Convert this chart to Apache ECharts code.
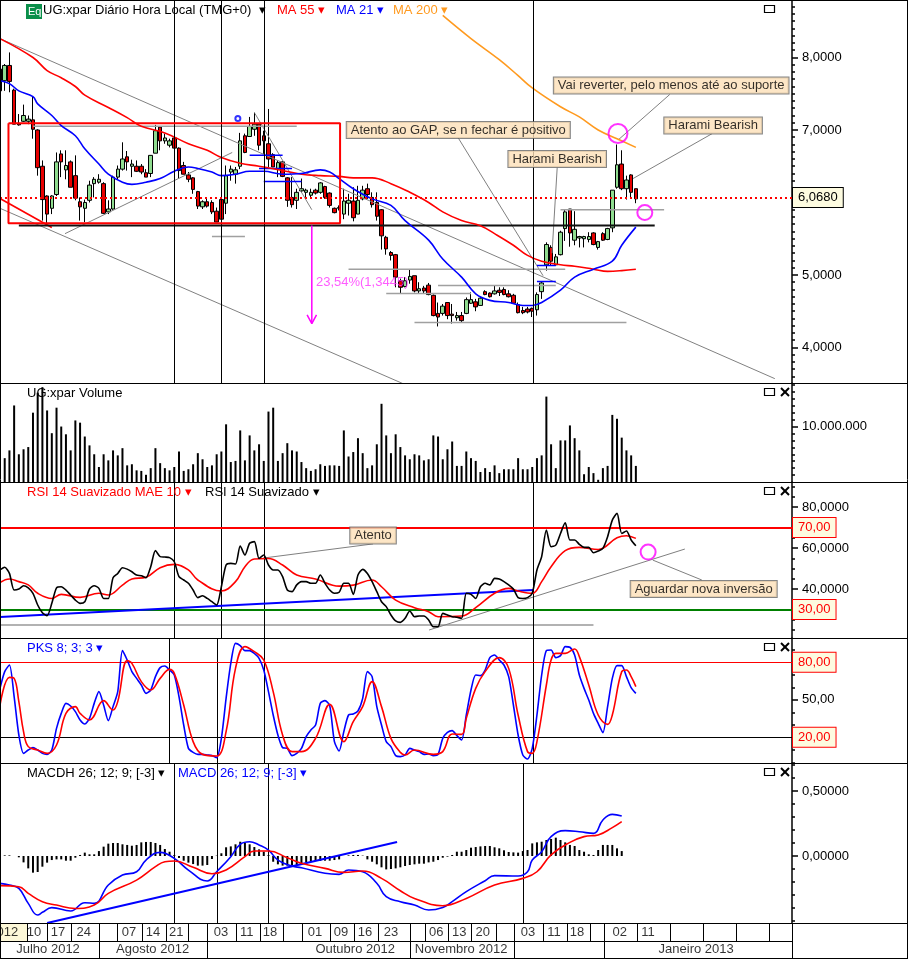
<!DOCTYPE html>
<html><head><meta charset="utf-8">
<style>html,body{margin:0;padding:0;background:#fff}#c{width:908px;height:959px}</style>
<script src="https://cdn.jsdelivr.net/npm/echarts@6/dist/echarts.min.js"></script>
</head><body><div id="c"></div>
<script>
// ---------- price: [open, close, low, high], one row per session
const candles = [
[7.84,7.54,7.50,7.95],[7.68,7.89,7.54,7.91],[7.89,7.67,7.52,8.07],[7.55,7.08,7.08,7.57],[7.09,7.07,7.06,7.22],
[7.12,7.20,7.11,7.35],[7.12,7.15,7.08,7.20],[7.14,7.01,6.88,7.46],[7.00,6.48,6.37,7.01],[6.50,6.04,5.75,6.58],
[6.09,5.84,5.70,6.10],[5.92,6.09,5.84,6.10],[6.11,6.56,6.09,6.69],[6.67,6.56,6.35,6.72],[6.45,6.51,6.32,6.72],
[6.56,6.21,6.21,6.58],[6.37,6.06,6.03,6.65],[6.01,5.94,5.75,6.07],[5.92,6.00,5.73,6.04],[6.03,6.24,6.00,6.30],
[6.26,6.32,6.07,6.35],[6.28,6.32,6.26,6.39],[6.26,5.85,5.84,6.28],[5.87,5.91,5.84,6.03],[5.91,6.35,5.90,6.37],
[6.35,6.46,6.32,6.51],[6.46,6.60,6.44,6.83],[6.63,6.56,6.44,6.71],[6.50,6.53,6.35,6.59],[6.50,6.43,6.42,6.58],
[6.50,6.42,6.39,6.53],[6.41,6.35,6.35,6.46],[6.40,6.65,6.35,6.65],[6.68,6.99,6.68,7.07],[7.04,6.85,6.72,7.04],
[6.85,6.89,6.81,6.95],[6.79,6.85,6.76,6.88],[6.89,6.75,6.53,6.91],[6.75,6.44,6.33,6.76],[6.51,6.39,6.39,6.56],
[6.38,6.32,6.28,6.42],[6.34,6.18,6.12,6.35],[6.15,5.95,5.91,6.16],[5.94,6.01,5.91,6.03],[6.01,5.95,5.93,6.07],
[6.00,5.87,5.84,6.03],[5.88,5.73,5.73,5.93],[6.04,5.77,5.73,6.05],[5.99,6.37,5.84,6.51],[6.42,6.46,6.30,6.51],
[6.39,6.45,6.26,6.49],[6.50,6.85,6.46,6.96],[6.92,6.69,6.68,6.95],[6.91,7.05,6.91,7.18],[7.01,7.08,6.92,7.24],
[7.08,6.79,6.72,7.08],[6.92,6.85,6.67,6.99],[6.81,6.60,6.49,7.29],[6.66,6.49,6.49,6.68],[6.46,6.55,6.35,6.58],
[6.56,6.36,6.35,6.57],[6.34,6.03,5.94,6.35],[6.07,5.97,5.93,6.35],[6.03,6.14,5.91,6.19],[6.16,6.19,6.14,6.33],
[6.14,6.17,6.07,6.19],[6.10,6.14,6.07,6.19],[6.17,6.13,6.11,6.19],[6.14,6.27,6.12,6.28],[6.22,6.07,6.05,6.23],
[6.13,5.96,5.93,6.14],[5.92,5.86,5.85,5.93],[5.92,5.93,5.89,5.96],[5.84,6.02,5.77,6.19],[5.99,6.03,5.82,6.12],
[6.02,5.79,5.74,6.21],[5.84,6.03,5.84,6.23],[6.05,6.17,6.03,6.23],[6.19,6.11,6.05,6.26],[6.07,5.97,5.93,6.14],
[6.00,5.81,5.75,6.14],[5.90,5.54,5.35,5.91],[5.52,5.36,5.28,5.54],[5.31,5.27,5.20,5.33],[5.28,4.97,4.83,5.29],
[4.92,4.83,4.75,4.95],[4.84,4.92,4.83,4.97],[4.93,4.98,4.88,5.08],[4.99,4.78,4.76,4.99],[4.78,4.81,4.74,4.90],
[4.82,4.78,4.74,4.85],[4.86,4.73,4.72,4.89],[4.72,4.44,4.43,4.73],[4.47,4.42,4.29,4.62],[4.47,4.57,4.44,4.60],
[4.62,4.44,4.39,4.62],[4.46,4.44,4.33,4.60],[4.41,4.44,4.37,4.49],[4.44,4.37,4.35,4.49],[4.47,4.66,4.46,4.69],
[4.61,4.66,4.60,4.76],[4.63,4.56,4.50,4.67],[4.58,4.68,4.58,4.70],[4.77,4.73,4.72,4.79],[4.75,4.70,4.69,4.76],
[4.74,4.78,4.73,4.85],[4.79,4.76,4.71,4.83],[4.80,4.73,4.72,4.83],[4.74,4.70,4.69,4.79],[4.72,4.61,4.60,4.74],
[4.59,4.48,4.47,4.62],[4.51,4.48,4.46,4.56],[4.53,4.49,4.47,4.56],[4.54,4.50,4.42,4.55],[4.52,4.73,4.44,4.76],
[4.77,4.89,4.67,4.91],[5.14,5.42,5.06,5.45],[5.38,5.19,5.13,5.41],[5.14,5.25,5.13,5.29],[5.28,5.59,5.27,5.61],
[5.64,5.87,5.47,5.90],[5.91,5.58,5.39,5.91],[5.48,5.63,5.41,5.88],[5.51,5.53,5.38,5.54],[5.50,5.53,5.38,5.54],
[5.49,5.53,5.45,5.59],[5.58,5.42,5.41,5.59],[5.38,5.46,5.35,5.47],[5.57,5.48,5.47,5.59],[5.49,5.64,5.48,5.65],
[5.65,6.17,5.59,6.17],[6.21,6.52,6.19,6.80],[6.53,6.19,6.17,6.72],[6.19,6.31,6.04,6.37],[6.38,6.14,6.05,6.39],
[6.19,6.05,5.99,6.19]];
// moving averages: [session index, value]
const ma55 = [[0,8.26],[7,8.00],[10,7.82],[13,7.72],[16,7.60],[18,7.48],[23,7.31],[27,7.17],[30,7.05],[35,6.96],[40,6.81],[44,6.72],[47,6.62],[51,6.54],[55,6.50],[60,6.44],[64,6.39],[68,6.37],[72,6.36],[75,6.34],[79,6.34],[83,6.26],[87,6.14],[91,6.00],[94,5.87],[98,5.75],[102,5.68],[105,5.57],[109,5.41],[112,5.27],[115,5.19],[119,5.14],[122,5.12],[126,5.08],[129,5.05],[132,5.06],[135,5.08]];
const ma21 = [[0,7.68],[2,7.64],[4,7.54],[7,7.46],[8,7.36],[11,7.20],[13,7.06],[16,6.92],[18,6.74],[21,6.53],[23,6.39],[26,6.28],[28,6.25],[31,6.28],[34,6.33],[37,6.43],[40,6.49],[42,6.47],[45,6.42],[47,6.37],[50,6.39],[53,6.43],[56,6.43],[60,6.39],[64,6.40],[68,6.45],[70,6.42],[72,6.33],[75,6.19],[79,6.05],[83,5.96],[86,5.75],[91,5.48],[94,5.22],[98,4.97],[101,4.74],[104,4.65],[108,4.62],[111,4.58],[113,4.58],[115,4.62],[119,4.79],[122,4.97],[126,5.08],[130,5.19],[132,5.41],[135,5.66]];
const ma200 = [[94,8.58],[100,8.26],[106,7.97],[110,7.75],[113,7.58],[119,7.32],[123,7.18],[127,7.00],[131,6.88],[135,6.76]];
const lastPrice = 6.068;
// drawn studies, in [session, price] pairs
const trendLines = [[[0,8.26],[164.5,3.57]],[[0,5.92],[85.6,3.50]],[[13.8,5.57],[49.3,6.69]],[[54.1,7.23],[66.2,5.90]]];
const calloutLines = [[[97.2,6.90],[115.3,4.99]],[[118.3,6.48],[117.2,5.30]],[[142.2,7.49],[131.2,6.86]],[[151.2,6.95],[134.4,6.33]]];
const supportLines = [[[7,7.05],[63,7.05]],[[45,5.53],[52,5.53]],[[74,5.08],[120,5.08]],[[93,4.855],[118,4.855]],[[82,4.745],[100,4.745]],[[88,4.345],[133,4.345]],[[119,5.90],[141,5.90]]];
const gapSupport = [[4,5.683],[139,5.683]];
const blueLevels = [[[53,6.65],[60,6.65]],[[55,6.47],[62,6.47]],[[56,6.29],[64,6.29]],[[114,5.13],[118,5.13]],[[114,4.91],[118,4.91]]];
const redChannel = [[0,6.055],[11,5.655]];
const rangeBox = [[1.8,7.094],[72.2,7.094],[72.2,5.714],[1.8,5.714],[1.8,7.094]];
const targetArrow = [[66.2,5.683],[66.2,4.33]];
const targetHead = [[65.2,4.45],[66.2,4.33],[67.2,4.45]];
const priceNotes = [[97.3,7.0,'Atento ao GAP, se n fechar é positivo'],[142.5,7.614,'Vai reverter, pelo menos até ao suporte'],[151.4,7.062,'Harami Bearish'],[118.3,6.6,'Harami Bearish']];
const targetNote = [76.9,4.897,'23,54%(1,3445)'];
const priceRings = [[131.2,6.952],[136.9,5.862]];
const blueRing = [50.5,7.159];
const priceTicks = [4,5,7,8];
const priceVerticals = [37.05,46.9,56.2,113.2];
// volume, millions of shares, starting at session 1
const volumes = [4.3,5.7,13.8,5.0,5.9,6.3,12.5,16.1,17.1,12.9,8.8,13.4,10.0,8.6,5.7,11.1,10.7,8.2,6.6,5.0,2.7,5.0,3.9,5.7,4.8,6.1,3.0,3.2,2.1,2.0,1.3,2.5,6.1,3.4,2.5,2.1,2.7,5.5,2.0,2.3,3.2,5.2,4.1,2.7,3.0,5.0,5.5,10.4,3.6,3.8,9.3,3.9,8.4,5.7,6.8,3.8,12.7,13.4,3.8,5.2,7.0,5.7,5.5,3.6,2.5,2.0,2.3,3.2,2.9,3.0,3.0,2.9,9.3,4.6,5.4,7.9,5.2,2.5,3.0,6.8,14.1,8.4,5.2,8.6,
6.3,4.8,4.1,5.0,4.8,3.9,4.1,8.4,8.2,4.1,5.9,7.3,2.9,2.9,5.5,4.3,3.8,1.8,2.5,1.8,3.0,1.6,2.3,2.3,2.3,4.3,2.3,2.3,2.7,4.3,4.8,15.4,6.8,2.5,7.5,7.5,10.2,7.9,5.7,1.4,2.7,1.6,0.4,2.5,2.9,12.1,11.4,8.0,5.7,4.8,2.9];
// RSI
const rsi = [49.3,50.6,47.6,39.5,40,41.6,40.6,37.9,32.2,28.4,27,33,40.6,41.1,39.5,37.1,34.6,33,33.8,40,41.6,40.3,35.4,35.4,45.5,47.6,50.4,49.7,48.4,46.8,46.5,45.5,50.9,58.7,55.8,55.6,55.3,53.3,46,44.4,42.8,39.5,35.8,36.7,35.4,33.8,32.2,41.1,51.7,52.5,52.2,61,56.6,62.3,63.1,54.9,56.6,51.7,49.3,49.3,46,39.5,38.7,42,43.6,43.6,42.8,42.8,46.8,42.8,39.5,37.9,38.4,42.8,42.8,37.4,46.8,49.6,47.6,43.6,38.7,33.8,31.4,27.3,24.4,
23.7,25.7,29.3,26.5,26.8,26.8,24.9,21.6,21.6,28.1,27.3,26.5,26.2,25.7,37.9,37.4,35.4,41.1,42.8,42,45.2,44.9,43.6,42,40,35.8,35.4,35.8,37.9,49.3,55.8,68.8,60.6,61.4,67.1,72.3,63.9,63.9,61.8,60.3,60.3,57.7,58.5,59.8,65.5,73.6,76.9,67.1,68.3,63.9,61.1];
const rsiMae = [[0,43.2],[2,44.9],[4,43.6],[6,42],[8,37.9],[11,35.4],[13,37.4],[17,35.9],[21,37.9],[23,37.1],[26,41.9],[28,44.9],[31,45.7],[34,50.4],[37,52],[40,49.3],[42,44.4],[47,39],[50,43.6],[52,50.9],[54,54.6],[57,54.9],[60,51.7],[63,46.8],[67,44.9],[72,41.4],[75,41.9],[79,44.4],[81,41.1],[84,34.6],[88,30.9],[91,28.9],[93,26.5],[98,26.8],[101,30.9],[105,37.9],[108,40.3],[110,39],[113,37.9],[115,43.6],[117,50.9],[120,58.7],[123,60.3],[127,59.3],[131,65],[133,66],[135,64.7]];
const rsiTicks = [40,60,80];
const rsiTrend = [[0,26.3],[113.2,39.5]];
const rsiFloor = [[0,22.4],[126,22.4]];
const rsiRise = [[91.1,20],[145.4,59.5]];
const rsiCallouts = [[[55.9,55.1],[79.2,62]],[[138.6,54.1],[149,44.4]]];
const rsiNotes = [[79.2,66.1,'Atento'],[149.4,40,'Aguardar nova inversão']];
const rsiRing = [137.6,58];
const rsiVerticals = [37.05,46.9,56.2,113.2];
// stochastic
const pksK = [59.1,72.5,77.8,52.5,21.8,7.1,9.8,11.7,9.8,7.1,6.3,9.8,27.1,39.1,47.1,45,40.5,33.8,30.6,35.1,47.1,56.5,45.8,33.3,44.5,56.5,89.3,81.8,72.5,67.1,61.8,55.1,57.8,68.5,75.7,77,73.8,69.8,52.5,29.8,11.1,7.9,6.3,6.3,5.8,5.3,3.7,19.1,51.1,79.1,95.1,93.3,89.3,89.3,87.1,83.1,73.8,56.5,37.8,21.8,11.7,11.1,5.3,7.1,11.1,20.5,25.8,29.8,47.1,49.3,45.3,16.5,9,24.5,37.8,38.6,41,51.1,72.5,68.5,44.5,29.8,16.5,12.5,5.3,
4.5,5.8,11.1,9.8,8.5,6.3,6.6,5.3,6.3,19.1,23.9,25.3,21.3,17.8,37.8,57.8,69.8,69.3,73.8,83.7,85.8,81.8,77.8,68.5,45.8,21.8,5.8,2.6,11.1,37.8,69.8,89.3,89.8,83.7,85.3,92.5,92,85.8,69.8,59.1,49.8,39.1,31.1,23.7,44.5,67.1,77.3,77.3,68.5,59.7,55.1];
const pksD = [[0,45.8],[2,67.9],[3,67.1],[4,48.5],[5,24.5],[6,12.5],[8,9.8],[10,7.1],[12,13.8],[14,39.1],[16,44.5],[17,39.1],[19,33.8],[22,49.3],[24,41.8],[25,48.5],[27,81.3],[28,79.1],[30,64.5],[32,57.8],[34,67.1],[36,74.3],[37,71.1],[39,45.8],[41,16.5],[43,6.3],[46,5],[48,24.5],[50,75.1],[52,92.5],[54,88.5],[56,81.8],[58,56.5],[60,21.8],[62,8.5],[64,8.5],[67,19.1],[70,46.3],[73,16.5],[75,32.5],[77,44.5],[79,64.5],[81,44.5],[83,19.1],[85,7.9],[86,5.8],[88,9.8],[92,6.3],[94,8.5],[96,22.6],[98,22.3],[99,35.1],[101,59.1],[103,72.5],[106,83.7],[108,75.1],[110,37.8],[112,8.5],[113,7.1],[114,16.5],[116,61.8],[117,81.8],[118,87.1],[120,87.1],[122,90.6],[123,84.5],[125,61.8],[127,37.8],[129,30.3],[130,37.8],[132,72.5],[133,73.8],[134,68.5],[135,60.5]];
const pksTicks = [50];
const pksVerticals = [35.9,46.1,56.2,113.2];
// MACD
const macdHist = [0,0.005,0.005,0,-0.010,-0.049,-0.095,-0.128,-0.123,-0.082,-0.051,-0.031,-0.026,-0.026,-0.036,-0.036,-0.013,0.008,0.026,0.013,0.013,0.038,0.072,0.095,0.100,0.100,0.090,0.085,0.079,0.085,0.105,0.108,0.108,0.100,0.085,0.054,0.033,0.008,-0.015,-0.036,-0.051,-0.062,-0.074,-0.074,-0.069,-0.023,0.003,0.021,0.067,0.074,0.090,0.110,0.103,0.090,0.069,0.051,0.033,0.008,-0.044,-0.064,-0.074,-0.074,-0.069,-0.074,-0.064,-0.049,-0.044,-0.038,-0.038,-0.036,-0.036,-0.031,-0.026,0,0.005,0.008,0.008,0.003,-0.026,-0.044,-0.064,-0.087,-0.103,-0.100,-0.095,
-0.087,-0.077,-0.069,-0.064,-0.059,-0.059,-0.049,-0.044,-0.031,-0.013,-0.005,0.008,0.033,0.033,0.046,0.064,0.069,0.074,0.077,0.077,0.067,0.059,0.044,0.031,0.028,0.026,0.038,0.046,0.097,0.105,0.110,0.123,0.131,0.141,0.123,0.105,0.085,0.077,0.046,0.033,0.013,0.008,0.046,0.085,0.085,0.085,0.059,0.038];
const macdLine = [[0,-0.21],[2,-0.223],[4,-0.249],[6,-0.364],[8,-0.454],[9,-0.433],[11,-0.397],[15,-0.423],[18,-0.359],[20,-0.364],[23,-0.223],[26,-0.146],[29,-0.121],[31,-0.031],[34,0.028],[37,-0.018],[40,-0.108],[44,-0.192],[46,-0.121],[49,-0.005],[51,0.09],[53,0.11],[55,0.085],[57,0.046],[59,-0.031],[62,-0.077],[64,-0.09],[69,-0.133],[72,-0.141],[74,-0.108],[77,-0.121],[80,-0.21],[82,-0.313],[85,-0.351],[88,-0.377],[91,-0.415],[94,-0.395],[96,-0.351],[99,-0.274],[103,-0.19],[105,-0.151],[110,-0.154],[112,-0.121],[113,-0.031],[115,0.033],[117,0.149],[120,0.195],[123,0.187],[126,0.174],[128,0.277],[130,0.32],[132,0.308]];
const macdSignal = [[0,-0.228],[4,-0.236],[6,-0.287],[9,-0.351],[12,-0.377],[16,-0.403],[20,-0.377],[23,-0.287],[29,-0.185],[33,-0.082],[35,-0.044],[37,-0.038],[41,-0.087],[45,-0.136],[48,-0.108],[52,-0.005],[54,0.038],[57,0.038],[61,-0.013],[64,-0.056],[69,-0.095],[73,-0.126],[77,-0.115],[81,-0.172],[85,-0.267],[88,-0.326],[94,-0.382],[99,-0.326],[105,-0.223],[111,-0.172],[114,-0.121],[117,0.008],[121,0.105],[124,0.149],[127,0.162],[130,0.218],[132,0.264]];
const macdTrend = [[10,-0.515],[84.3,0.108]];
const macdTicks = [0,0.5];
const macdVerticals = [37.05,46.1,57,111.1];
// date strip
const dayLabels = ['2012','10','17','24','07','14','21','03','11','18','01','09','16','23','06','13','20','03','11','18','02','11'];
const dayCentres = [0.8,7.2,12.3,17.8,27.4,32.5,37.4,46.9,52.4,57.3,66.9,72.4,77.5,83,92.6,97.5,102.5,112.1,117.6,122.5,131.6,137.6];
const daySeparators = [5.7,10,15.1,21,24.8,30.1,35.2,39.9,44,50.1,55.2,60.1,64.1,70.1,75.2,80.3,87.2,90.2,95.1,100,105.3,109.1,115.3,120.4,125.3,128.2,135.2,142.3,149.3,156.3,163.3];
const monthLabels = ['Julho 2012','Agosto 2012','Outubro 2012','Novembro 2012','Janeiro 2013'];
const monthCentres = [10.2,32.4,75.4,97.9,147.8];
const monthSeparators = [21.1,44,87.2,109.2,128.3];

// ---------- layout and styling
const FONT = '"Liberation Sans", Arial, sans-serif';
const XMAX = 168.15;
const panels = [
  {top:0,height:383,min:3.51,max:8.793},
  {top:383,height:99,min:0,max:17.85},
  {top:482,height:156,min:16.1,max:92.2},
  {top:638,height:125,min:-0.6,max:99.4},
  {top:763,height:160,min:-0.515,max:0.715}
];
const RED='#ff0000',BLUE='#0000ff',ORANGE='#ff9a1f',GREY='#808080',MAG='#ff00ff';
const comma=(v,d)=>v.toFixed(d).replace('.',',');
const range=(a,b,s)=>{const o=[];const n=Math.round((b-a)/s);for(let k=0;k<=n;k++)o.push(+(a+k*s).toFixed(4));return o;};

const grids=panels.map(p=>({left:0,width:792,top:p.top,height:p.height,containLabel:false}));
grids.push({left:0,width:792,top:923,height:18},{left:0,width:792,top:941,height:17});

const xAxes=panels.map((p,i)=>({type:'value',gridIndex:i,min:0,max:XMAX,show:false,splitLine:{show:false}}));
xAxes.push({type:'value',gridIndex:5,min:0,max:XMAX,show:false},{type:'value',gridIndex:6,min:0,max:XMAX,show:false});

const axisSpec=[
  {major:priceTicks,minor:range(3.6,8.7,0.1),fmt:v=>comma(v,4)},
  {major:[10],minor:range(1.25,17.5,1.25),fmt:v=>'10.000.000'},
  {major:rsiTicks,minor:range(20,90,5),fmt:v=>comma(v,4)},
  {major:pksTicks,minor:range(0,90,10),fmt:v=>comma(v,2)},
  {major:macdTicks,minor:range(-0.5,0.7,0.1),fmt:v=>comma(v,5)}
];
const yAxes=[];
panels.forEach((p,i)=>{
  yAxes.push({type:'value',gridIndex:i,position:'right',min:p.min,max:p.max,scale:true,splitLine:{show:false},
    axisLine:{show:true,onZero:false,lineStyle:{color:'#000',width:1.5}},
    axisTick:{show:true,length:6,customValues:axisSpec[i].major,lineStyle:{color:'#000',width:1.5}},
    axisLabel:{show:true,margin:10,customValues:axisSpec[i].major,showMinLabel:true,showMaxLabel:true,formatter:axisSpec[i].fmt,color:'#000',fontFamily:FONT,fontSize:13}});
});
panels.forEach((p,i)=>{
  yAxes.push({type:'value',gridIndex:i,position:'left',offset:-792,min:p.min,max:p.max,scale:true,splitLine:{show:false},
    axisLine:{show:false},axisLabel:{show:false},
    axisTick:{show:true,inside:true,length:3,customValues:axisSpec[i].minor,lineStyle:{color:'#000',width:1.5}}});
});
yAxes.push({type:'value',gridIndex:5,min:0,max:1,show:false},{type:'value',gridIndex:6,min:0,max:1,show:false});
const stripY=(g)=>g===5?10:11;

const base=(g)=>({xAxisIndex:g,yAxisIndex:g>=5?stripY(g):g,animation:false,silent:true});
const line=(g,data,color,width,extra)=>Object.assign({type:'line',data,showSymbol:false,symbol:'none',lineStyle:{color,width},itemStyle:{color},z:4},base(g),extra||{});
const ruleLabel=(txt,color,bg)=>({show:true,position:'end',distance:1,formatter:txt,color,fontFamily:FONT,fontSize:13,backgroundColor:bg,borderColor:color==='#000'?'#000':RED,borderWidth:1,padding:[3,5,3,5]});
const rules=(g,verticals,levels)=>Object.assign({type:'line',data:[[0,panels[g].min]],showSymbol:false,symbol:'none',lineStyle:{width:0},z:6},base(g),{markLine:{animation:false,silent:true,symbol:'none',precision:4,
  label:{show:false},
  data:verticals.map(v=>({xAxis:v,lineStyle:{color:'#000',width:1,type:'solid'},label:{show:false}})).concat(levels)}});
const noteLabel=(txt)=>({show:true,position:'inside',formatter:txt,color:'#000',fontFamily:FONT,fontSize:13,backgroundColor:'#fde0b8',borderColor:'#666',borderWidth:1,padding:[2,4,1,4]});
const notes=(g,list)=>Object.assign({type:'scatter',symbolSize:1,z:9,itemStyle:{color:'rgba(0,0,0,0)'},data:list.map(n=>({value:[n[0],n[1]],label:noteLabel(n[2])}))},base(g),{clip:false});
const rings=(g,list,color,sizes)=>Object.assign({type:'scatter',z:8,data:list.map((r,i)=>({value:r,symbolSize:sizes[i]})),itemStyle:{color:'rgba(0,0,0,0)',borderColor:color,borderWidth:2}},base(g));
const strip=(g,centres,labels,seps)=>Object.assign({type:'scatter',symbolSize:1,z:9,clip:false,itemStyle:{color:'rgba(0,0,0,0)'},
  data:centres.map((c,i)=>({value:[c,0.5],label:{show:true,position:'inside',formatter:labels[i],color:'#000',fontFamily:FONT,fontSize:13}})),
  markLine:{animation:false,silent:true,symbol:'none',label:{show:false},lineStyle:{color:'#000',width:1,type:'solid'},data:seps.map(v=>({xAxis:v}))}},base(g));

const series=[];
// price panel
series.push(Object.assign({type:'candlestick',encode:{x:0,y:[1,2,3,4]},barWidth:4,z:3,
  data:candles.map((c,i)=>[i,c[0],c[1],c[2],c[3]]),
  itemStyle:{color:'#8fdc8f',color0:'#e60000',borderColor:'#000',borderColor0:'#000',borderWidth:1}},base(0)));
trendLines.forEach(t=>series.push(line(0,t,GREY,1)));
calloutLines.forEach(t=>series.push(line(0,t,GREY,1)));
supportLines.forEach(t=>series.push(line(0,t,'#a0a0a0',1.5)));
blueLevels.forEach(t=>series.push(line(0,t,BLUE,1.5)));
series.push(line(0,redChannel,RED,1.6));
series.push(line(0,gapSupport,'#111',2));
series.push(line(0,rangeBox,RED,2,{z:5}));
series.push(line(0,ma55,RED,1.6,{smooth:0.4}));
series.push(line(0,ma21,BLUE,1.6,{smooth:0.4}));
series.push(line(0,ma200,ORANGE,1.6,{smooth:0.4}));
series.push(line(0,targetArrow,MAG,1.5));
series.push(line(0,targetHead,MAG,1.5));
series.push(rules(0,priceVerticals,[{yAxis:lastPrice,lineStyle:{color:RED,width:2,type:[2,3]},label:ruleLabel('6,0680','#000','#fdfbe0')}]));
series.push(Object.assign({type:'scatter',symbolSize:1,z:9,itemStyle:{color:'rgba(0,0,0,0)'},
  data:[{value:[targetNote[0],targetNote[1]],label:{show:true,position:'inside',formatter:targetNote[2],color:'#ff33ff',fontFamily:FONT,fontSize:13}}]},base(0)));
series.push(notes(0,priceNotes));
series.push(rings(0,priceRings,MAG,[19,15]));
series.push(rings(0,[blueRing],BLUE,[5]));
// volume
series.push(Object.assign({type:'bar',barWidth:2,data:volumes.map((v,i)=>[i+1,v]),itemStyle:{color:'#000'}},base(1)));
// RSI
const lvl=(v,color,width,txt)=>({yAxis:v,lineStyle:{color,width,type:'solid'},label:ruleLabel(txt,RED,'#fdfbe0')});
series.push(line(2,rsiFloor,'#999',1.5));
series.push(line(2,rsiRise,GREY,1));
rsiCallouts.forEach(t=>series.push(line(2,t,GREY,1)));
series.push(rules(2,rsiVerticals,[lvl(70,RED,2,'70,00'),lvl(30,'#008000',2,'30,00')]));
series.push(line(2,rsiTrend,BLUE,2,{z:5}));
series.push(line(2,rsiMae,RED,1.6,{smooth:0.4,z:6}));
series.push(line(2,rsi.map((v,i)=>[i,v]),'#000',1.6,{smooth:0.25,z:7}));
series.push(notes(2,rsiNotes));
series.push(rings(2,[rsiRing],MAG,[15]));
// stochastic
series.push(rules(3,pksVerticals,[lvl(80,RED,1,'80,00'),{yAxis:20,lineStyle:{color:'#000',width:1,type:'solid'},label:ruleLabel('20,00',RED,'#fdfbe0')}]));
series.push(line(3,pksK.map((v,i)=>[i,v]),BLUE,1.6,{smooth:0.25,z:5}));
series.push(line(3,pksD,RED,1.6,{smooth:0.4,z:6}));
// MACD
series.push(Object.assign({type:'bar',barWidth:2,data:macdHist.map((v,i)=>[i,v]),itemStyle:{color:'#000'},z:2},base(4)));
series.push(rules(4,macdVerticals,[]));
series.push(line(4,macdTrend,BLUE,2,{z:5}));
series.push(line(4,macdLine,BLUE,1.6,{smooth:0.45,z:5}));
series.push(line(4,macdSignal,RED,1.6,{smooth:0.45,z:6}));
// date strips
series.push(strip(5,dayCentres,dayLabels,daySeparators),strip(6,monthCentres,monthLabels,monthSeparators));

// ---------- window chrome: panel titles, buttons and frame
const text=(x,y,t,fill)=>({type:'text',x,y,z:20,silent:true,style:{text:t,fill,font:'13px '+FONT,textVerticalAlign:'middle'}});
const hl=(y,x2)=>({type:'line',z:15,silent:true,shape:{x1:0,y1:y+.5,x2:x2,y2:y+.5},style:{stroke:'#000',lineWidth:1}});
const vl=(x,y1,y2)=>({type:'line',z:15,silent:true,shape:{x1:x+.5,y1,x2:x+.5,y2},style:{stroke:'#000',lineWidth:1}});
const btnBox=(y)=>({type:'rect',z:20,silent:true,shape:{x:764.5,y:y+.5,width:10,height:7},style:{fill:'#fff',stroke:'#000',lineWidth:1.2}});
const btnX=(y)=>[{type:'line',z:20,silent:true,shape:{x1:781,y1:y,x2:789,y2:y+8},style:{stroke:'#000',lineWidth:2}},{type:'line',z:20,silent:true,shape:{x1:789,y1:y,x2:781,y2:y+8},style:{stroke:'#000',lineWidth:2}}];
const graphic=[
  {type:'rect',z:1,silent:true,shape:{x:0,y:924,width:27,height:17},style:{fill:'#fdf8d8'}},
  hl(383,908),hl(482,908),hl(638,908),hl(763,908),hl(923,908),hl(941,792),hl(958,908),
  vl(0,0,959),vl(907,0,959),vl(792,923,959),{type:'line',z:15,silent:true,shape:{x1:0,y1:.5,x2:908,y2:.5},style:{stroke:'#000',lineWidth:1}},
  {type:'rect',z:19,silent:true,shape:{x:26,y:4,width:16,height:15},style:{fill:'#0a8f4a'}},
  {type:'text',x:28,y:12,z:20,silent:true,style:{text:'Eq',fill:'#fff',font:'11px '+FONT,textVerticalAlign:'middle'}},
  text(43,10,'UG:xpar Diário Hora Local (TMG+0)  ▾','#000'),
  text(277,10,'MA 55 ▾',RED),
  text(336,10,'MA 21 ▾',BLUE),
  text(393,10,'MA 200 ▾',ORANGE),
  text(27,393,'UG:xpar Volume','#000'),
  text(27,492,'RSI 14 Suavizado MAE 10 ▾',RED),
  text(205,492,'RSI 14 Suavizado ▾','#000'),
  text(27,648,'PKS 8; 3; 3 ▾',BLUE),
  text(27,773,'MACDH 26; 12; 9; [-3] ▾','#000'),
  text(178,773,'MACD 26; 12; 9; [-3] ▾',BLUE),
  btnBox(5),btnBox(388),btnBox(487),btnBox(643),btnBox(768),
  ...btnX(388),...btnX(487),...btnX(643),...btnX(768)
];

const chart=echarts.init(document.getElementById('c'),null,{renderer:'canvas'});
chart.setOption({animation:false,backgroundColor:'#fff',textStyle:{fontFamily:FONT},tooltip:{show:false},grid:grids,xAxis:xAxes,yAxis:yAxes,series,graphic});
</script></body></html>
